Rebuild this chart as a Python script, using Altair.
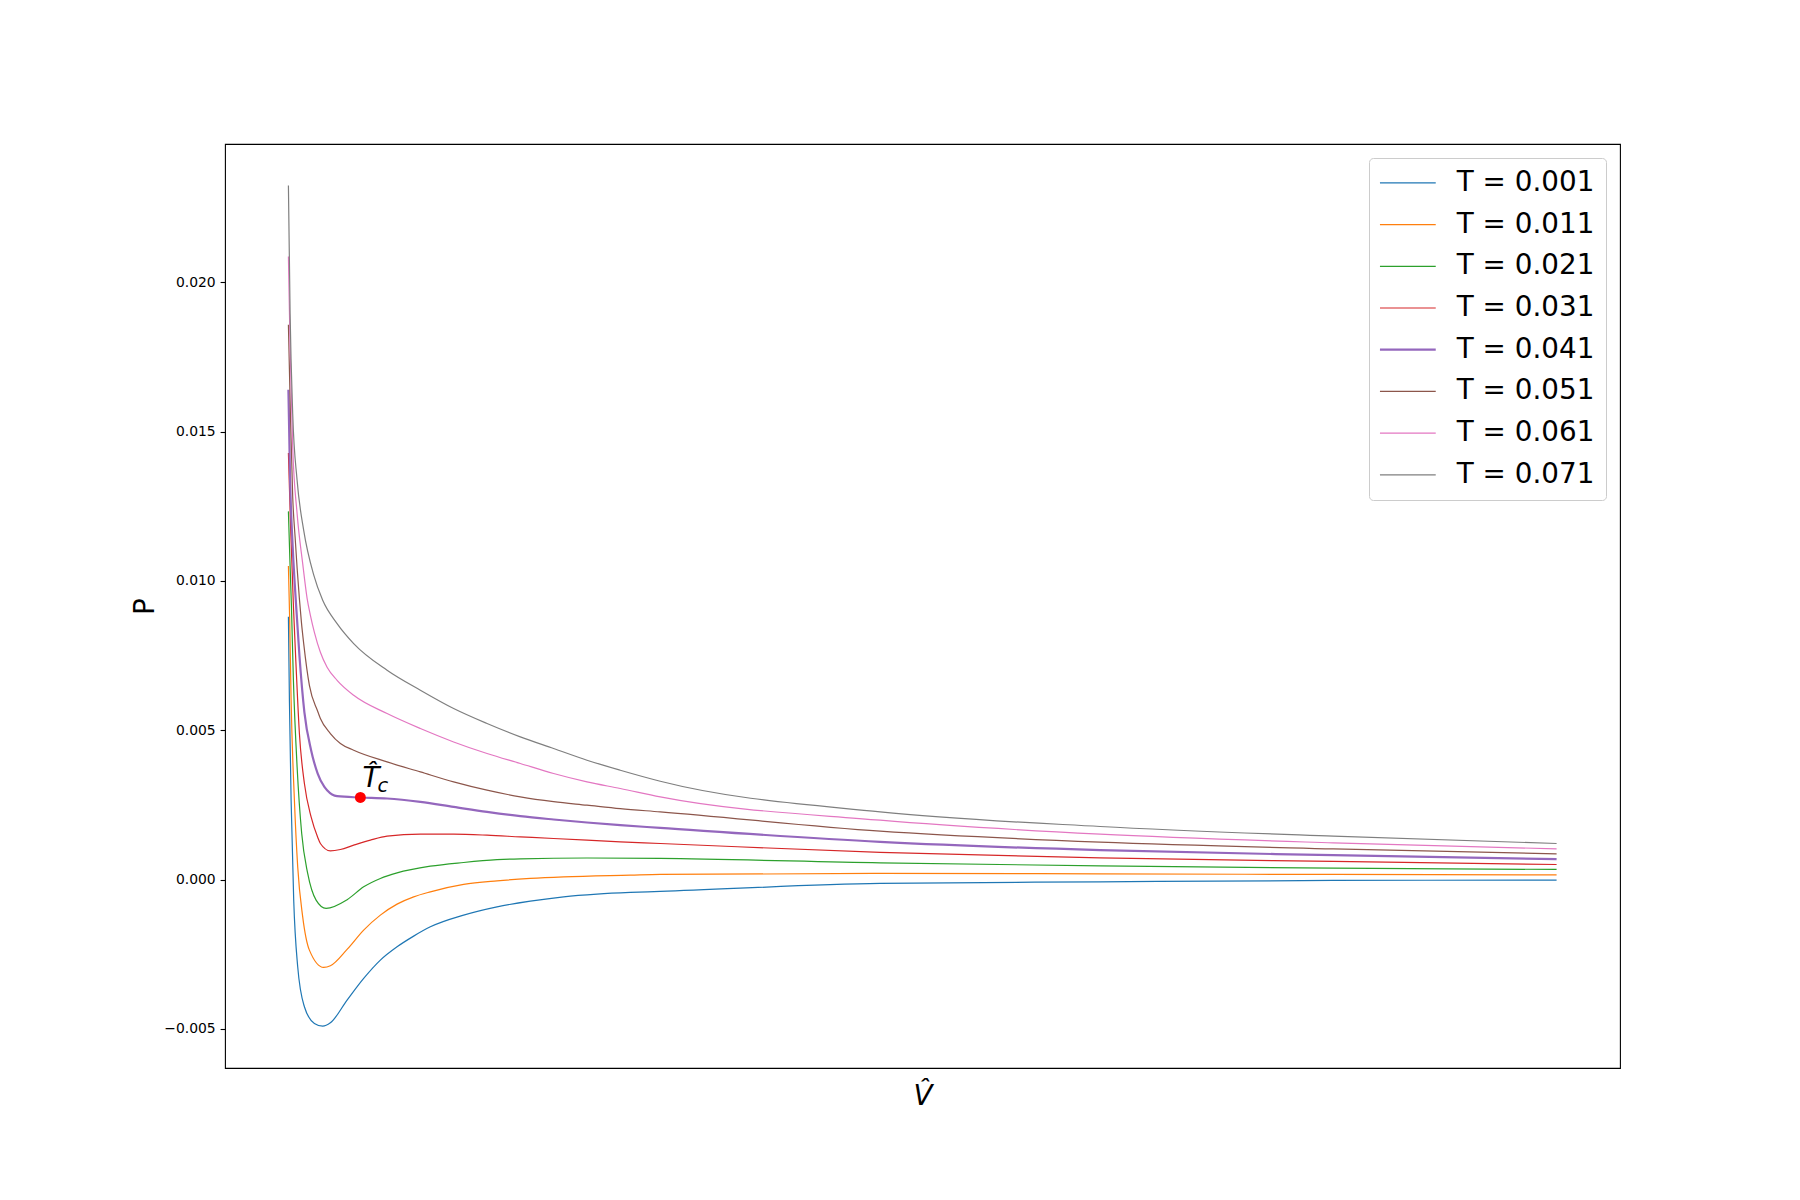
import altair as alt
import pandas as pd

# ---- data (V-hat in arbitrary units, P) ----
series_names = ["T = 0.001", "T = 0.011", "T = 0.021", "T = 0.031",
                "T = 0.041", "T = 0.051", "T = 0.061", "T = 0.071"]
colors = ["#1f77b4", "#ff7f0e", "#2ca02c", "#d62728",
          "#9467bd", "#8c564b", "#e377c2", "#7f7f7f"]
highlight = "T = 0.041"

v_001 = [0, 0.00079, 0.00213, 0.00418, 0.00733, 0.01261, 0.02049, 0.02704, 0.0331, 0.04627,
         0.05935, 0.07251, 0.08568, 0.09876, 0.11193, 0.13817, 0.1645, 0.19075, 0.21699, 0.24332,
         0.26957, 0.29321, 0.46662, 0.64002, 0.8239, 1.0]
p_001 = [0.0088, 0.006004, 0.002657, -0.000689, -0.002922, -0.00426, -0.004816, -0.004906, -0.004796, -0.004036,
         -0.00331, -0.002697, -0.002252, -0.001894, -0.001583, -0.001191, -0.000914, -0.000723, -0.000579, -0.000489,
         -0.000432, -0.000398, -0.000131, -0.000077, -0.00003, -0.00002]

v_011 = [0, 0.00102, 0.00213, 0.00473, 0.00733, 0.01127, 0.01655, 0.02782, 0.0331, 0.04627,
         0.05935, 0.07251, 0.08568, 0.09876, 0.11193, 0.13817, 0.1645, 0.19075, 0.21699, 0.26957,
         0.29321, 0.46662, 0.64002, 0.8239, 1.0]
p_011 = [0.010499, 0.008681, 0.006004, 0.002657, 0.000425, -0.001248, -0.002363, -0.002942, -0.002888, -0.002339,
         -0.001693, -0.001191, -0.000823, -0.000579, -0.000412, -0.000164, -0.000044, 0.000037, 0.00009, 0.000147,
         0.000171, 0.000204, 0.000191, 0.000171, 0.000157]

v_021 = [0, 0.00118, 0.00236, 0.00394, 0.00686, 0.01048, 0.01521, 0.02183, 0.02972,
         0.04627, 0.05935, 0.07251, 0.08568, 0.11193, 0.13817, 0.1645, 0.18286, 0.23544, 0.29321,
         0.46662, 0.64002, 0.8239, 1.0]
p_021 = [0.012329, 0.010689, 0.009183, 0.006673, 0.003772, 0.001543, 0.000204, -0.000689, -0.000967,
         -0.000675, -0.000244, 0.000037, 0.000224, 0.000448, 0.000572, 0.000665, 0.000695, 0.000722, 0.000706,
         0.000559, 0.000458, 0.000382, 0.000338]

v_031 = [0, 0.00181, 0.00402, 0.00607, 0.00867, 0.01261, 0.01789, 0.02309, 0.02522, 0.0331,
         0.04099, 0.05147, 0.06463, 0.0778, 0.10404, 0.13029, 0.15662, 0.18286, 0.20911, 0.23544,
         0.26169, 0.29321, 0.46662, 0.64002, 0.8239, 1.0]
p_031 = [0.01428, 0.011693, 0.009083, 0.007118, 0.00489, 0.003216, 0.002098, 0.001419, 0.001208, 0.000961,
         0.001007, 0.001151, 0.001319, 0.001452, 0.001519, 0.001519, 0.001486, 0.001429, 0.001375, 0.001319,
         0.001262, 0.001208, 0.000907, 0.000726, 0.000606, 0.000505]

v_041 = [0, 0.00134, 0.00339, 0.00607, 0.00867, 0.01261, 0.01789, 0.02309, 0.02838, 0.0305,
         0.03839, 0.05675, 0.0778, 0.10404, 0.13029, 0.15662, 0.18286, 0.20911, 0.23544, 0.26169,
         0.29321, 0.46662, 0.64002, 0.8239, 1.0]
p_041 = [0.016402, 0.013367, 0.011134, 0.009183, 0.00751, 0.005602, 0.004331, 0.003551, 0.003102, 0.002992,
         0.002791, 0.002748, 0.002714, 0.0026, 0.002433, 0.002266, 0.002122, 0.002011, 0.001911, 0.001821,
         0.00173, 0.001262, 0.000984, 0.000817, 0.000683]

v_051 = [0, 0.00158, 0.00339, 0.00528, 0.00686, 0.00867, 0.01025, 0.01206, 0.01655, 0.02309,
         0.02522, 0.0331, 0.04099, 0.05147, 0.0778, 0.10404, 0.13029, 0.15662, 0.18286, 0.20911,
         0.23544, 0.26169, 0.29321, 0.46662, 0.64002, 0.8239, 1.0]
p_051 = [0.018578, 0.015599, 0.012808, 0.011469, 0.01043, 0.0094, 0.00862, 0.0079, 0.0065, 0.005636,
         0.005391, 0.00489, 0.004555, 0.004331, 0.003939, 0.003604, 0.00327, 0.002992, 0.002768, 0.002607,
         0.00249, 0.002373, 0.002266, 0.00162, 0.001252, 0.001027, 0.00086]

v_061 = [0, 0.00134, 0.00339, 0.00686, 0.01127, 0.01474, 0.01734, 0.02049, 0.02522, 0.0305,
         0.03839, 0.05147, 0.0778, 0.10404, 0.13029, 0.15662, 0.18286, 0.20911, 0.23544, 0.26169,
         0.29321, 0.46662, 0.64002, 0.8239, 1.0]
p_061 = [0.020863, 0.017828, 0.014481, 0.012252, 0.010579, 0.009418, 0.008849, 0.00828, 0.00761, 0.007108,
         0.006673, 0.006171, 0.005559, 0.005057, 0.004608, 0.00422, 0.003886, 0.003551, 0.00327, 0.003049,
         0.002768, 0.001988, 0.001519, 0.001228, 0.001027]

v_071 = [0, 0.00134, 0.00339, 0.00686, 0.01206, 0.01994, 0.02704, 0.03839, 0.05147, 0.0778,
         0.10404, 0.13029, 0.15662, 0.18286, 0.20911, 0.23544, 0.26169, 0.29321, 0.46662, 0.64002,
         0.8239, 1.0]
p_071 = [0.023239, 0.018946, 0.015599, 0.013367, 0.011693, 0.0102, 0.009351, 0.008571, 0.007902, 0.007008,
         0.006339, 0.005726, 0.005224, 0.004776, 0.004387, 0.003996, 0.003661, 0.003293, 0.002266, 0.001777,
         0.001452, 0.001208]

crit_v = [0.05675]
crit_p = [0.002748]

y_ticks = [-0.005, 0.0, 0.005, 0.010, 0.015, 0.020]
x_domain = [-0.05, 1.05]
y_domain = [-0.00631, 0.02463]

# ---- assemble long table ----
all_v = [v_001, v_011, v_021, v_031, v_041, v_051, v_061, v_071]
all_p = [p_001, p_011, p_021, p_031, p_041, p_051, p_061, p_071]
rows = []
for k, (name, vs, ps) in enumerate(zip(series_names, all_v, all_p)):
    for i, (v, p) in enumerate(zip(vs, ps)):
        rows.append({"series": name, "order": k, "i": i, "V": v, "P": p})
df = pd.DataFrame(rows)

FONT = "DejaVu Sans"
THIN, THICK = 1.2, 2.2

legend = alt.Legend(
    title=None, orient="top-right", offset=14, padding=11,
    fillColor="rgba(255,255,255,0.8)", strokeColor="#cccccc", cornerRadius=4,
    labelFont=FONT, labelFontSize=27.8, labelColor="black", labelLimit=400,
    symbolType="M-1,0H3", symbolSize=778, labelOffset=49, rowPadding=12.7,
    symbolStrokeWidth=alt.ExprRef(expr=f"datum.value === '{highlight}' ? {THICK} : {THIN}"),
)

xscale = alt.Scale(domain=x_domain, nice=False, zero=False)
yscale = alt.Scale(domain=y_domain, nice=False, zero=False)

lines = alt.Chart(df).mark_line(interpolate="monotone").encode(
    x=alt.X("V:Q", scale=xscale,
            axis=alt.Axis(title="V\u0302", ticks=False, labels=False, domain=False, grid=False,
                          titleFont=FONT, titleFontSize=27.8, titleFontStyle="italic",
                          titleFontWeight="normal", titleColor="black",
                          titleY=36, titleBaseline="alphabetic")),
    y=alt.Y("P:Q", scale=yscale,
            axis=alt.Axis(title="P", values=y_ticks, format=".3f", grid=False, domain=False,
                          labelFont=FONT, labelFontSize=13.9, labelColor="black",
                          tickColor="black", tickWidth=1.1, tickSize=4.9, labelPadding=4.9,
                          titleFont=FONT, titleFontSize=27.8, titleFontWeight="normal",
                          titleColor="black", titleX=-72, titleY=462, titleAngle=-90,
                          titleAlign="center", titleBaseline="alphabetic")),
    color=alt.Color("series:N", scale=alt.Scale(domain=series_names, range=colors), legend=legend),
    strokeWidth=alt.condition(f"datum.series === '{highlight}'", alt.value(THICK), alt.value(THIN)),
    detail="series:N",
    order="i:Q",
)

crit_df = pd.DataFrame({"V": crit_v, "P": crit_p})
dot = alt.Chart(crit_df).mark_point(filled=True, color="#ff0000", size=120, opacity=1).encode(
    x=alt.X("V:Q", scale=xscale), y=alt.Y("P:Q", scale=yscale))
lab_t = alt.Chart(crit_df).mark_text(
    text="T\u0302", align="left", baseline="alphabetic", dx=2, dy=-10,
    font=FONT, fontStyle="italic", fontSize=27.8, color="black").encode(
    x=alt.X("V:Q", scale=xscale), y=alt.Y("P:Q", scale=yscale))
lab_c = alt.Chart(crit_df).mark_text(
    text="c", align="left", baseline="alphabetic", dx=17, dy=-5,
    font=FONT, fontStyle="italic", fontSize=19.5, color="black").encode(
    x=alt.X("V:Q", scale=xscale), y=alt.Y("P:Q", scale=yscale))

chart = alt.layer(lines, dot, lab_t, lab_c).properties(
    width=1395, height=924,
    autosize=alt.AutoSizeParams(type="none"),
    padding={"left": 217, "top": 136, "right": 172, "bottom": 124},
    background="white",
).configure_view(stroke="black", strokeWidth=1.1)

chart.save("out.html", embed_options={"renderer": "svg", "actions": False})
